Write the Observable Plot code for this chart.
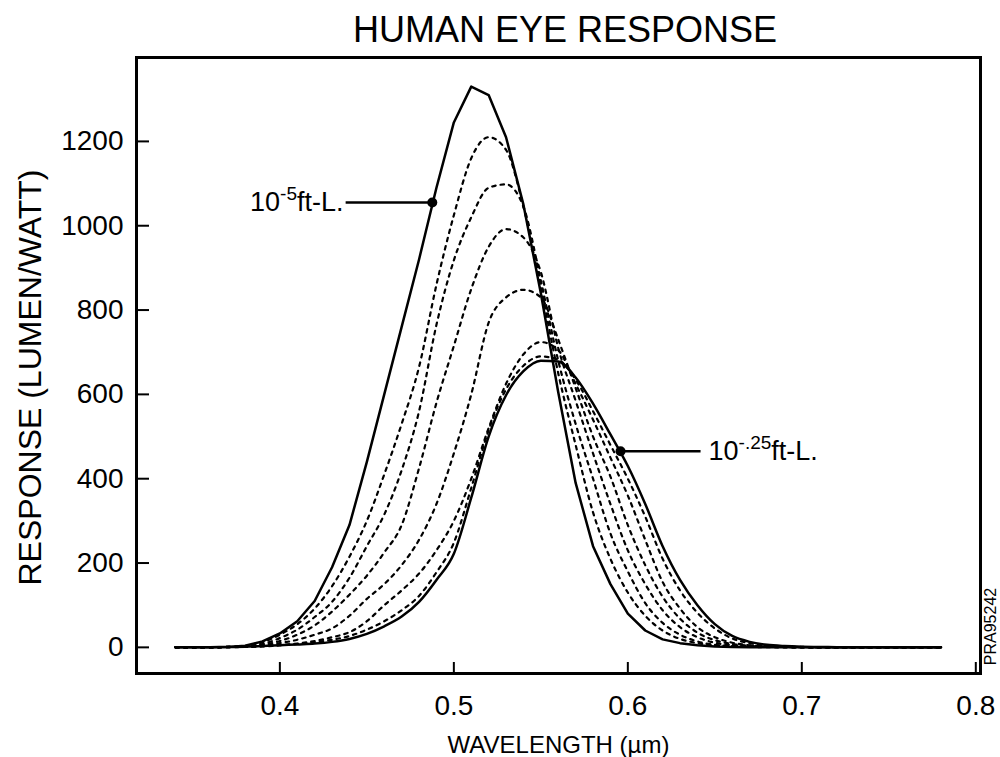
<!DOCTYPE html>
<html>
<head>
<meta charset="utf-8">
<script src="https://cdn.jsdelivr.net/npm/d3@7"></script>
<script src="https://cdn.jsdelivr.net/npm/@observablehq/plot@0.6"></script>
<style>
  body { margin: 0; background: #fff; font-family: "Liberation Sans", Arial, Helvetica, sans-serif; }
  #title { box-sizing: border-box; width: 1000px; height: 50px; line-height: 60px; padding-left: 130px;
           text-align: center; font-size: 36px; color: #000; white-space: nowrap; }
  #chart svg { display: block; }
</style>
</head>
<body>
<div id="title">HUMAN EYE RESPONSE</div>
<div id="chart"></div>
<script>
// wavelength grid (µm)
const wavelength = [0.34,0.35,0.36,0.37,0.38,0.39,
  0.40,0.41,0.42,0.43,0.44,0.45,0.46,0.47,0.48,0.49,
  0.50,0.51,0.52,0.53,0.54,0.55,0.56,0.57,0.58,0.59,
  0.60,0.61,0.62,0.63,0.64,0.65,0.66,0.67,0.68,0.69,
  0.70,0.71,0.72,0.73,0.74,0.75,0.76,0.77,0.78];

// solid: 10^-5 ft-L (scotopic-like)
const scotopic = [0,0,0.5,1,4,14,
  33,62,110,190,290,440,600,760,920,1090,
  1245,1330,1310,1210,1050,840,605,390,240,150,
  80,40,19,10,5,2,1,0.5,0,0,
  0,0,0,0,0,0,0,0,0];

// solid: 10^-.25 ft-L (photopic-like)
const photopic = [0,0,0.5,1,1.5,3,
  5,7,9,13,20,32,50,73,108,160,
  222,355,500,598,655,680,678,640,578,505,
  430,340,240,160,100,55,27,13,6,3,
  1.5,1,0.5,0,0,0,0,0,0];

// intermediate (dotted) curves
const mesopic1 = [0,0,0.5,1,3,12,
  30,55,92,145,215,300,410,530,665,860,
  1025,1160,1210,1180,1045,855,650,480,320,210,
  130,75,40,20,10,5,2,1,0.5,0,
  0,0,0,0,0,0,0,0,0];
const mesopic2 = [0,0,0.5,1,2,8,
  22,42,72,108,165,240,315,420,560,765,
  918,1020,1090,1098,1045,870,680,530,400,270,
  180,105,58,30,14,6,3,1.5,1,0.5,
  0,0,0,0,0,0,0,0,0];
const mesopic3 = [0,0,0,0.5,2,6,
  15,30,52,85,125,170,225,290,425,580,
  715,850,950,992,972,890,710,585,460,340,
  230,150,88,48,24,11,5,2.5,1.5,1,
  0.5,0,0,0,0,0,0,0,0];
const mesopic4 = [0,0,0,0.5,1.5,4,
  10,18,30,45,75,115,150,195,255,340,
  460,600,770,830,848,830,730,615,500,405,
  290,195,120,68,35,17,8,4,2,1,
  0.5,0,0,0,0,0,0,0,0];
const mesopic5 = [0,0,0,0.5,1,2,
  5,9,15,24,36,62,100,135,175,230,
  300,400,520,625,695,724,705,625,540,450,
  360,255,155,92,48,24,11,5,2.5,1,
  0.5,0,0,0,0,0,0,0,0];
const mesopic6 = [0,0,0.5,1,1.5,3,
  5,8,12,18,27,42,62,88,122,178,
  248,378,515,612,668,690,682,635,560,480,
  400,310,210,135,82,45,21,10,4,2,
  1,0.5,0,0,0,0,0,0,0];

const xTicks = [0.4, 0.5, 0.6, 0.7, 0.8];
const yTicks = [0, 200, 400, 600, 800, 1000, 1200];

// callouts (data coordinates)
const annotations = [
  {px: 0.4876, py: 1055, lx: 0.4378, tx: 0.4366, anchor: "end",   base: "10", sup: "-5",   unit: "ft-L."},
  {px: 0.5958, py: 465,  lx: 0.6418, tx: 0.6464, anchor: "start", base: "10", sup: "-.25", unit: "ft-L."}
];

const toRows = (name, values) => values.map((v, i) => ({curve: name, wavelength: wavelength[i], response: v}));
const solidRows = toRows("scotopic", scotopic);
const photopicRows = toRows("photopic", photopic);
const dottedRows = [
  ...toRows("m1", mesopic1), ...toRows("m2", mesopic2), ...toRows("m3", mesopic3),
  ...toRows("m4", mesopic4), ...toRows("m5", mesopic5), ...toRows("m6", mesopic6)
];

const fullText = a => a.base + a.sup + a.unit;

const chart = Plot.plot({
  width: 1000,
  height: 707,
  marginTop: 7,
  marginBottom: 84,
  marginLeft: 136,
  marginRight: 20,
  style: {fontFamily: '"Liberation Sans", Arial, Helvetica, sans-serif', color: "#000", background: "#fff", overflow: "visible"},
  x: {domain: [0.3176, 0.8027], label: null},
  y: {domain: [-62, 1399], label: null},
  marks: [
    Plot.line(dottedRows, {x: "wavelength", y: "response", z: "curve", stroke: "#000",
      strokeWidth: 2.2, strokeDasharray: "3.5,5", curve: "monotone-x"}),
    Plot.line(photopicRows, {x: "wavelength", y: "response", stroke: "#000", strokeWidth: 2.5, curve: "monotone-x"}),
    Plot.line(solidRows, {x: "wavelength", y: "response", stroke: "#000", strokeWidth: 2.5, curve: "linear"}),
    Plot.link(annotations, {x1: "px", y1: "py", x2: "lx", y2: "py", stroke: "#000", strokeWidth: 2.5}),
    Plot.dot(annotations, {x: "px", y: "py", r: 5, fill: "#000"}),
    Plot.text(annotations.filter(a => a.anchor === "end"), {x: "tx", y: "py", text: fullText, textAnchor: "end", fontSize: 27}),
    Plot.text(annotations.filter(a => a.anchor === "start"), {x: "tx", y: "py", text: fullText, textAnchor: "start", fontSize: 27}),
    Plot.axisX({ticks: xTicks, tickSize: -11, tickPadding: 33, fontSize: 28, strokeWidth: 2, label: null,
      tickFormat: d => d.toFixed(1)}),
    Plot.axisY({ticks: yTicks, tickSize: -13, tickPadding: 26, fontSize: 28, strokeWidth: 2, label: null,
      tickFormat: d => String(d)}),
    Plot.text(["WAVELENGTH (\u00b5m)"], {frameAnchor: "bottom", dy: 72, fontSize: 24, textAnchor: "middle", lineAnchor: "middle"}),
    Plot.text(["RESPONSE (LUMEN/WATT)"], {frameAnchor: "left", dx: -106, dy: 12, rotate: -90, fontSize: 32,
      textAnchor: "middle", lineAnchor: "middle"}),
    Plot.text(["PRA95242"], {frameAnchor: "bottom-right", dx: 10, dy: -47, rotate: -90, fontSize: 16,
      textAnchor: "middle", lineAnchor: "middle"}),
    Plot.frame({stroke: "#000", strokeWidth: 3})
  ]
});

// superscripts for the callout labels
d3.select(chart).selectAll("text").each(function() {
  const a = annotations.find(a => fullText(a) === this.textContent);
  if (!a) return;
  const t = d3.select(this);
  t.text(null);
  t.append("tspan").text(a.base);
  t.append("tspan").attr("font-size", 19).attr("dy", -11).text(a.sup);
  t.append("tspan").attr("dy", 11).text(a.unit);
});

document.getElementById("chart").appendChild(chart);
</script>
</body>
</html>
